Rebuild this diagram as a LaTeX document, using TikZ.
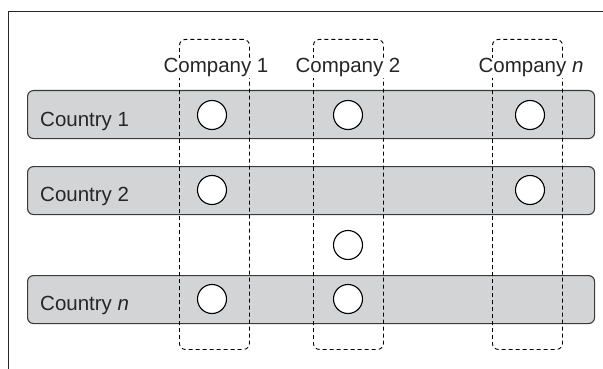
\documentclass[tikz,border=0pt]{standalone}
\usepackage{fontspec}
\setmainfont{Liberation Sans}
\definecolor{barfill}{HTML}{D3D4D6}
\definecolor{edge}{HTML}{3A3A3A}
\begin{document}
\begin{tikzpicture}[x=1pt,y=-1pt,
  bar/.style={draw=edge,fill=barfill,line width=1.1pt,rounded corners=6pt,minimum width=567pt,minimum height=48pt,inner sep=0pt,anchor=north west},
  compbox/.style={draw=black,dash pattern=on 4pt off 3pt,line width=0.9pt,rounded corners=6pt,minimum width=70pt,minimum height=310pt,inner sep=0pt,anchor=north west},
  complabel/.style={fill=white,inner sep=1pt,anchor=base,font=\fontsize{20.5}{24}\selectfont,text=black!85},
  countrylabel/.style={inner sep=0pt,anchor=base west,font=\fontsize{20.5}{24}\selectfont,text=black!85},
  dot/.style={circle,draw=black,fill=white,line width=1.1pt,minimum size=29pt,inner sep=0pt}]
\useasboundingbox (0,0) rectangle (603,369);
\coordinate (fb) at (8,369);
\coordinate (fc) at (8,11);
\coordinate (fr) at (603,11);
\draw[line width=0.9pt,color=black!85] (fb) -- (fc) -- (fr);
% country bars
\node[bar] (bar1) at (27,90) {};
\node[bar] (bar2) at (27,166) {};
\node[bar] (barn) at (27,275) {};
% company boxes
\node[compbox] (c1) at (179,39) {};
\node[compbox] (c2) at (313,39) {};
\node[compbox] (cn) at (492,39) {};
% labels
\node[complabel] (l1) at (216,73) {Company 1};
\node[complabel] (l2) at (348,73) {Company 2};
\node[complabel] (ln) at (531,73) {Company \textit{n}};
\node[countrylabel] (k1) at (40,126) {Country 1};
\node[countrylabel] (k2) at (40,201) {Country 2};
\node[countrylabel] (kn) at (40,310) {Country \textit{n}};
% circles
\node[dot] (d11) at (212,115) {};
\node[dot] (d21) at (348,115) {};
\node[dot] (dn1) at (530,115) {};
\node[dot] (d12) at (212,190) {};
\node[dot] (dn2) at (530,190) {};
\node[dot] (d2x) at (348,245) {};
\node[dot] (d1n) at (212,299) {};
\node[dot] (d2n) at (348,299) {};
\end{tikzpicture}
\end{document}
